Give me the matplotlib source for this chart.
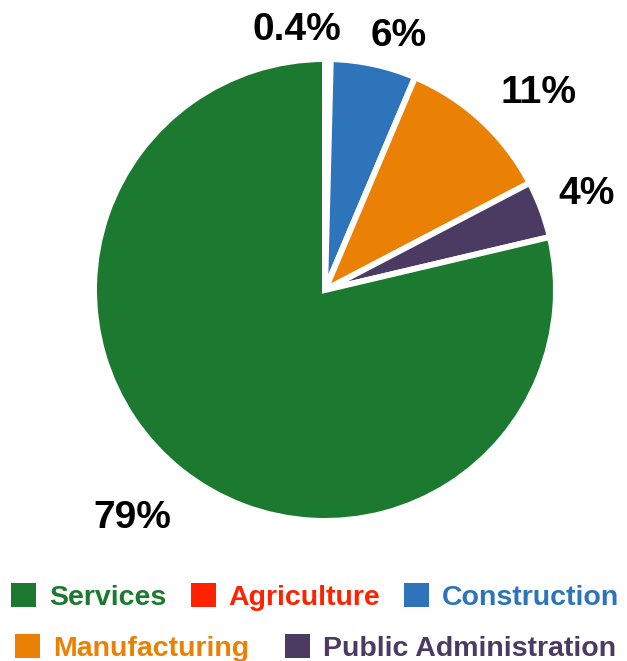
import matplotlib.pyplot as plt
from matplotlib.patches import Patch
import numpy as np

# data, in drawing order (clockwise from 12 o'clock)
sectors = ['Agriculture', 'Construction', 'Manufacturing', 'Public Administration', 'Services']
shares = [0.4, 6, 11, 4, 79]
colors = ['#ff2200', '#2d74ba', '#ea8105', '#4b3b63', '#1c7a30']
legend_rows = [['Services', 'Agriculture', 'Construction'],
               ['Manufacturing', 'Public Administration']]

W, H = 627, 661
cx, cy = 325, 290       # pie centre in px (from top-left)
R = 231                 # pie radius in px
label_r = 272           # where label anchors sit
FONT = 'Liberation Sans'

plt.rcParams['font.family'] = [FONT, 'DejaVu Sans']

fig = plt.figure(figsize=(W / 100, H / 100), dpi=100)
ax = fig.add_axes([0, 0, 1, 1])
wedges, _ = ax.pie(shares, colors=colors, startangle=90, counterclock=False, radius=R,
                   wedgeprops=dict(edgecolor='white', linewidth=4.3))
ax.set_xlim(-cx, W - cx)
ax.set_ylim(-(H - cy), cy)
ax.set_aspect('equal')
ax.axis('off')

# percentage labels outside the slices, pushed out by half the text box, clamped in the canvas
renderer = fig.canvas.get_renderer()
nudge = {'Agriculture': (-32, 0), 'Construction': (10, -6), 'Manufacturing': (3, -9)}
cap = 28.0
for w, name, v in zip(wedges, sectors, shares):
    th = np.deg2rad((w.theta1 + w.theta2) / 2)
    d = np.array([np.cos(th), np.sin(th)])
    t = ax.text(0, 0, f'{v:g}%', fontsize=28, fontweight='bold', color='black',
                ha='center', va='baseline')
    bb = t.get_window_extent(renderer)
    hw = bb.width / 2
    x = d[0] * (label_r + hw)
    y = d[1] * (label_r + cap / 2)
    # clamp to the figure
    x = min(max(x, -cx + hw + 5), W - cx - hw - 12)
    y = min(y, cy - 12 - cap / 2)
    dx, dy = nudge.get(name, (0, 0))
    x += dx
    y += dy
    t.set_position((x, y - cap / 2))

# legend, two centred rows
handles = {n: Patch(facecolor=c, edgecolor='none') for n, c in zip(sectors, colors)}
row_y = [1 - 597 / H, 1 - 648 / H]
row_gap = [0.85, 1.25]
for names, yy, gap in zip(legend_rows, row_y, row_gap):
    leg = fig.legend([handles[n] for n in names], names, loc='center',
                     bbox_to_anchor=(0.503, yy), ncol=len(names), frameon=False,
                     prop=dict(family=FONT, weight='bold', size=20.5),
                     handlelength=0.88, handleheight=0.9, handletextpad=0.45,
                     columnspacing=gap, borderpad=0)
    for txt, n in zip(leg.get_texts(), names):
        txt.set_color(handles[n].get_facecolor())

fig.savefig('out.png', dpi=100)
